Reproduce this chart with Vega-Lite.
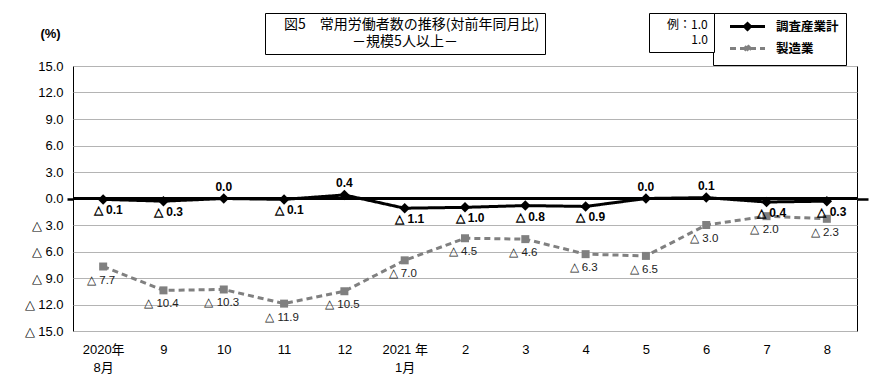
{
  "$schema": "https://vega.github.io/schema/vega-lite/v6.json",
  "width": 784,
  "height": 265,
  "autosize": {"type": "none"},
  "padding": {"left": 73, "top": 66, "right": 33, "bottom": 58},
  "background": "white",
  "config": {"view": {"stroke": "black", "strokeWidth": 1}, "font": "Liberation Sans"},
  "data": {
    "values": [
      {"month": "2020年8月", "series": "調査産業計", "value": -0.1},
      {"month": "9", "series": "調査産業計", "value": -0.3},
      {"month": "10", "series": "調査産業計", "value": 0.0},
      {"month": "11", "series": "調査産業計", "value": -0.1},
      {"month": "12", "series": "調査産業計", "value": 0.4},
      {"month": "2021 年1月", "series": "調査産業計", "value": -1.1},
      {"month": "2", "series": "調査産業計", "value": -1.0},
      {"month": "3", "series": "調査産業計", "value": -0.8},
      {"month": "4", "series": "調査産業計", "value": -0.9},
      {"month": "5", "series": "調査産業計", "value": 0.0},
      {"month": "6", "series": "調査産業計", "value": 0.1},
      {"month": "7", "series": "調査産業計", "value": -0.4},
      {"month": "8", "series": "調査産業計", "value": -0.3},
      {"month": "2020年8月", "series": "製造業", "value": -7.7},
      {"month": "9", "series": "製造業", "value": -10.4},
      {"month": "10", "series": "製造業", "value": -10.3},
      {"month": "11", "series": "製造業", "value": -11.9},
      {"month": "12", "series": "製造業", "value": -10.5},
      {"month": "2021 年1月", "series": "製造業", "value": -7.0},
      {"month": "2", "series": "製造業", "value": -4.5},
      {"month": "3", "series": "製造業", "value": -4.6},
      {"month": "4", "series": "製造業", "value": -6.3},
      {"month": "5", "series": "製造業", "value": -6.5},
      {"month": "6", "series": "製造業", "value": -3.0},
      {"month": "7", "series": "製造業", "value": -2.0},
      {"month": "8", "series": "製造業", "value": -2.3}
    ]
  },
  "transform": [
    {"calculate": "datum.value < 0 ? '△ ' + format(-datum.value, '.1f') : format(datum.value, '.1f')", "as": "label"}
  ],
  "layer": [
    {
      "mark": {"type": "rule", "color": "black"},
      "encoding": {
        "y": {
          "datum": 0,
          "type": "quantitative",
          "scale": {"domain": [-15, 15], "nice": false, "zero": false},
          "axis": {"orient": "right", "labels": false, "grid": false, "domain": false, "title": null, "values": [0], "tickSize": 11, "tickWidth": 2.5, "tickColor": "black"}
        },
        "strokeWidth": {
          "field": "series", "type": "nominal",
          "scale": {"type": "ordinal", "range": [2.5, 2.5]},
          "legend": {
            "orient": "none", "legendX": 192, "legendY": -53,
            "title": "－規模5人以上－", "titleOrient": "bottom", "titleAnchor": "middle", "titleAlign": "center",
            "titleFont": "Noto Sans CJK JP", "titleFontSize": 14, "titleFontWeight": "normal", "titleColor": "black", "titlePadding": 3, "titleLimit": 0,
            "values": ["調査産業計"],
            "labelExpr": "'図5　常用労働者数の推移(対前年同月比)'",
            "symbolSize": 0, "symbolOpacity": 0, "labelOffset": 0, "labelLimit": 0,
            "labelFont": "Noto Sans CJK JP", "labelFontSize": 14, "labelColor": "black",
            "strokeColor": "black", "fillColor": "white", "padding": 5
          }
        }
      }
    },
    {
      "mark": {"type": "line", "strokeWidth": 3},
      "encoding": {
        "x": {
          "field": "month", "type": "ordinal", "sort": null,
          "scale": {"type": "point", "padding": 0.5},
          "axis": {
            "title": null, "domain": false, "ticks": false, "grid": false, "labelAngle": 0,
            "labelPadding": 12, "labelFontSize": 13, "labelColor": "black", "labelLineHeight": 18,
            "labelFont": "Liberation Sans, Noto Sans CJK JP",
            "labelExpr": "indexof(datum.value, '年') > 0 ? [substring(datum.value, 0, indexof(datum.value, '年') + 1), substring(datum.value, indexof(datum.value, '年') + 1)] : datum.value"
          }
        },
        "y": {
          "field": "value", "type": "quantitative",
          "scale": {"domain": [-15, 15], "nice": false, "zero": false},
          "axis": {
            "orient": "left",
            "title": "(%)", "titleAngle": 0, "titleX": -23, "titleY": -33, "titleAlign": "center", "titleBaseline": "middle",
            "titleFontSize": 13, "titleFontWeight": "bold", "titleFont": "Liberation Sans",
            "values": [-15, -12, -9, -6, -3, 0, 3, 6, 9, 12, 15],
            "labelExpr": "datum.value < 0 ? '△ ' + format(-datum.value, '.1f') : format(datum.value, '.1f')",
            "labelFontSize": 13, "labelColor": "black", "labelFont": "Liberation Sans",
            "grid": true, "gridColor": "#b4b4b4", "gridWidth": 1,
            "domain": false, "tickSize": 6, "tickWidth": 2.5,
            "tickColor": {"condition": {"test": "datum.value == 0", "value": "black"}, "value": "transparent"},
            "labelPadding": 4
          }
        },
        "color": {
          "field": "series", "type": "nominal",
          "scale": {"domain": ["調査産業計", "製造業"], "range": ["black", "#808080"]},
          "legend": {
            "orient": "none", "legendX": 640, "legendY": -53, "title": null,
            "values": ["調査産業計", "製造業"],
            "strokeColor": "black", "fillColor": "white", "padding": 7, "rowPadding": 3,
            "symbolType": "M-3.5,0H3.5M0,-0.6L0.6,0L0,0.6L-0.6,0Z",
            "symbolSize": 100, "symbolOffset": 21, "labelOffset": 22, "symbolStrokeWidth": 3,
            "symbolOpacity": 1,
            "labelFont": "Noto Sans CJK JP", "labelFontSize": 12.5, "labelFontWeight": "bold", "labelColor": "black"
          }
        },
        "strokeDash": {
          "field": "series", "type": "nominal",
          "scale": {"domain": ["調査産業計", "製造業"], "range": [[1, 0], [6, 4]]},
          "legend": null
        }
      }
    },
    {
      "mark": {"type": "point", "filled": true, "opacity": 1},
      "encoding": {
        "x": {"field": "month", "type": "ordinal", "sort": null},
        "y": {"field": "value", "type": "quantitative", "axis": null},
        "color": {"field": "series", "type": "nominal"},
        "shape": {
          "field": "series", "type": "nominal",
          "scale": {"domain": ["調査産業計", "製造業", "_"], "range": ["diamond", "square", "circle"]},
          "legend": null
        },
        "size": {
          "field": "series", "type": "nominal",
          "scale": {"type": "ordinal", "domain": ["調査産業計", "製造業", "__"], "range": [110, 64, 64]},
          "legend": null
        },
        "opacity": {
          "field": "series", "type": "nominal",
          "scale": {"type": "ordinal", "domain": ["製造業", "調査産業計"], "range": [1, 1]},
          "legend": {
            "orient": "none", "legendX": 576, "legendY": -53,
            "title": "1.0", "titleOrient": "bottom", "titleAnchor": "end", "titleAlign": "right",
            "titleFont": "Noto Sans CJK JP", "titleFontSize": 12, "titleFontWeight": "normal", "titleColor": "black", "titlePadding": 4,
            "values": ["調査産業計"],
            "labelExpr": "'例：1.0'",
            "symbolSize": 0, "symbolOpacity": 0, "labelOffset": 0,
            "labelFont": "Noto Sans CJK JP", "labelFontSize": 12, "labelColor": "black",
            "strokeColor": "black", "fillColor": "white", "padding": 6
          }
        }
      }
    },
    {
      "transform": [{"filter": "datum.series == '調査産業計' && datum.value < 0"}],
      "mark": {"type": "text", "dx": 5, "dy": 11, "fontSize": 12, "fontWeight": "bold", "font": "Liberation Sans Narrow, Liberation Sans", "color": "black"},
      "encoding": {
        "x": {"field": "month", "type": "ordinal", "sort": null},
        "y": {"field": "value", "type": "quantitative", "axis": null},
        "text": {"field": "label"}
      }
    },
    {
      "transform": [{"filter": "datum.series == '調査産業計' && datum.value >= 0"}],
      "mark": {"type": "text", "dy": -12, "fontSize": 12, "fontWeight": "bold", "font": "Liberation Sans Narrow, Liberation Sans", "color": "black"},
      "encoding": {
        "x": {"field": "month", "type": "ordinal", "sort": null},
        "y": {"field": "value", "type": "quantitative", "axis": null},
        "text": {"field": "label"}
      }
    },
    {
      "transform": [{"filter": "datum.series == '製造業'"}],
      "mark": {"type": "text", "dx": -2, "dy": 14, "fontSize": 11.5, "font": "Liberation Sans Narrow, Liberation Sans", "color": "#222222"},
      "encoding": {
        "x": {"field": "month", "type": "ordinal", "sort": null},
        "y": {"field": "value", "type": "quantitative", "axis": null},
        "text": {"field": "label"}
      }
    }
  ],
  "resolve": {"axis": {"y": "independent"}}
}
